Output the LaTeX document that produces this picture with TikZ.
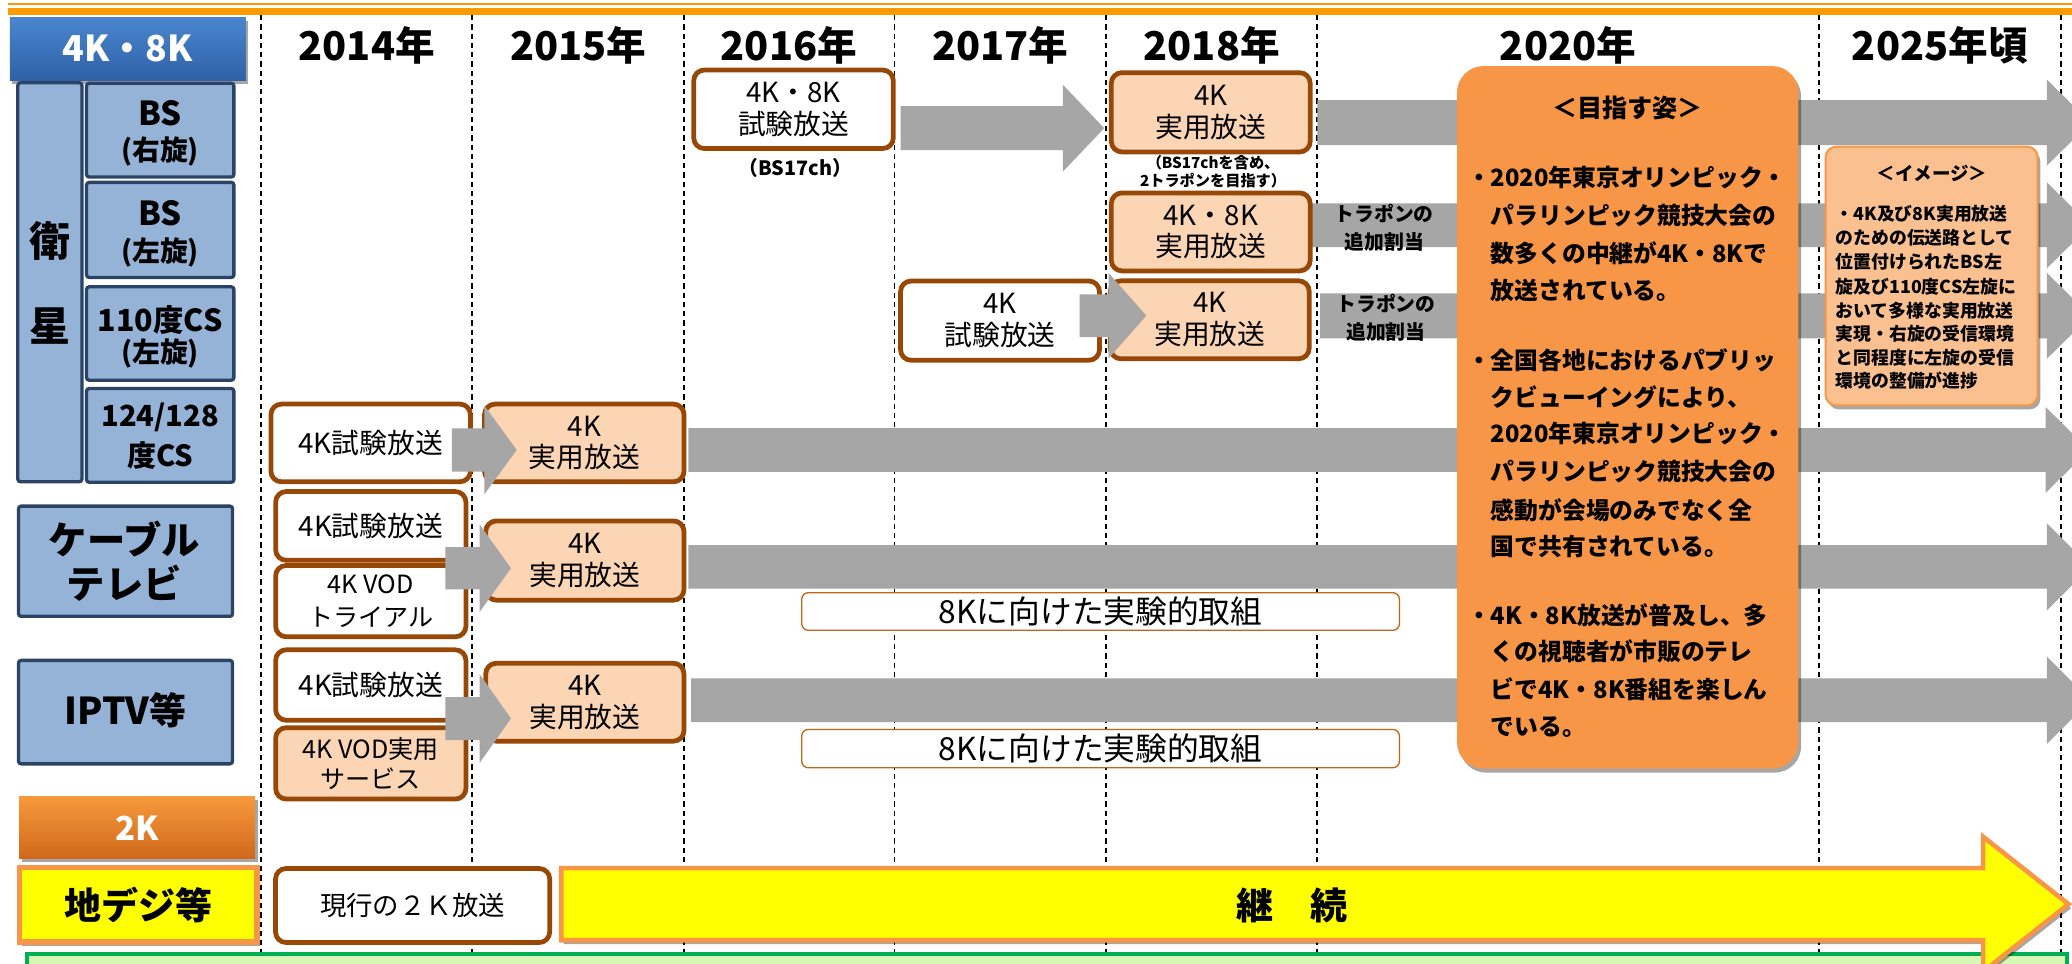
\documentclass[tikz,border=0pt]{standalone}
\usepackage{fontspec}
\setmainfont{Noto Sans CJK JP}
\usetikzlibrary{shadows}
\definecolor{topO}{HTML}{FF9900}
\definecolor{grayA}{HTML}{A6A6A6}
\definecolor{brownB}{HTML}{984806}
\definecolor{peach}{HTML}{FCD5B4}
\definecolor{eBorder}{HTML}{C0661A}
\definecolor{navyB}{HTML}{2B4466}
\definecolor{blueF}{HTML}{95B3D7}
\definecolor{orangeF}{HTML}{F79646}
\definecolor{imgF}{HTML}{FAC090}
\definecolor{greenB}{HTML}{00B050}
\definecolor{greenF}{HTML}{D6F7B5}
\definecolor{hdrTop}{HTML}{4A86D0}
\definecolor{hdrBot}{HTML}{2F61A6}
\definecolor{kTop}{HTML}{F79A3C}
\definecolor{kBot}{HTML}{D0681C}
\definecolor{yel}{HTML}{FFFF00}
\newcommand\fsz[2]{\fontsize{#1}{#2}\selectfont}
% x0, xh, xt, yc, half body, half head
\newcommand\blockarrow[6]{%
  \fill[grayA] (#1,#4-#5) -- (#2,#4-#5) -- (#2,#4-#6) -- (#3,#4) -- (#2,#4+#6) -- (#2,#4+#5) -- (#1,#4+#5) -- cycle;}
\tikzset{
  vline/.style={black, line width=1.2pt, dash pattern=on 4pt off 3pt},
  lbl/.style={draw=navyB, line width=2.5pt, fill=blueF, inner sep=0pt, rounded corners=2pt},
  ltxt/.style={inner sep=0pt, font=\bfseries\fsz{22}{26}},
  tbox/.style={draw=brownB, line width=3.6pt, rounded corners=8pt, fill=white, inner sep=0pt, align=center, font=\fsz{21}{24}},
  pbox/.style={tbox, fill=peach},
  ebox/.style={draw=eBorder, line width=1pt, rounded corners=5pt, fill=white, inner sep=0pt, font=\fsz{24}{27}},
  yr/.style={inner sep=0pt, font=\bfseries\fsz{30}{36}},
  note/.style={inner sep=0pt, align=center},
  tlabel/.style={inner sep=0pt, align=center, font=\bfseries\fsz{15}{21.5}},
  otxt/.style={inner sep=0pt, anchor=west, font=\bfseries\fsz{18}{22}},
  itxt/.style={inner sep=0pt, anchor=west, font=\bfseries\fsz{13.5}{17}},
  shad/.style={drop shadow={shadow xshift=2pt, shadow yshift=-3pt, opacity=0.35, fill=black}},
}
\begin{document}
\begin{tikzpicture}[x=1pt,y=-1pt]
\useasboundingbox (0,0) rectangle (1568,729.5);
\clip (0,0) rectangle (1568,729.5);

% top lines
\fill[topO] (6,2.5) rectangle (1568,4);
\fill[topO] (6,6.3) rectangle (1568,11.4);

% dashed column separators
\foreach \xx in {197.6,357.4,517.5,677,837,996.5,1376.7,1559.5}
  \draw[vline] (\xx,11.4) -- (\xx,722);

% long gray bands
\blockarrow{997}{1549}{1582}{92.8}{17}{32.5}
\blockarrow{993}{1549}{1582}{170.5}{16.5}{32.5}
\blockarrow{999}{1549}{1582}{239}{17}{32.5}
\blockarrow{521}{1548}{1581}{340.5}{16.5}{32.5}
\blockarrow{521}{1549}{1582}{429}{16.4}{33}
\blockarrow{523}{1549}{1582}{529.9}{16.5}{33}

% timeline boxes
\node[tbox, minimum width=151pt, minimum height=59.4pt] (b16) at (600.5,82.7) {4K・8K\\試験放送};
\node[note, font=\bfseries\fsz{15}{18}] (bs17) at (602,127) {（BS17ch）};
\node[pbox, minimum width=150.5pt, minimum height=60pt] (b18a) at (916.25,85) {4K\\実用放送};
\node[note, font=\bfseries\fsz{11.5}{14}] (n18) at (918,130) {（BS17chを含め、\\2トラポンを目指す）};
\node[pbox, minimum width=150.5pt, minimum height=59pt] (b18b) at (916.25,175.5) {4K・8K\\実用放送};
\node[tbox, minimum width=150.5pt, minimum height=60pt] (b17) at (756.75,242.65) {4K\\試験放送};
\node[pbox, minimum width=150.5pt, minimum height=59pt] (b18c) at (915.5,242) {4K\\実用放送};
\node[tbox, minimum width=151pt, minimum height=58.8pt] (r4a) at (280.5,335.2) {4K試験放送};
\node[pbox, minimum width=151pt, minimum height=58.8pt] (r4b) at (442.15,335.2) {4K\\実用放送};
\node[tbox, minimum width=144pt, minimum height=52pt] (c1) at (280.6,398) {4K試験放送};
\node[tbox, minimum width=144pt, minimum height=54pt, font=\fsz{19}{25}] (c2) at (280.6,454.9) {4K VOD\\トライアル};
\node[pbox, minimum width=150pt, minimum height=60pt] (c3) at (442.6,424.2) {4K\\実用放送};
\node[tbox, minimum width=144pt, minimum height=53.3pt] (i1) at (280.6,518.4) {4K試験放送};
\node[pbox, minimum width=144pt, minimum height=54pt, font=\fsz{19}{23}] (i2) at (280.6,577.7) {4K VOD実用\\サービス};
\node[pbox, minimum width=150pt, minimum height=59pt] (i3) at (442.6,531.4) {4K\\実用放送};
\node[ebox, minimum width=452.3pt, minimum height=28.5pt] (e1) at (832.85,462.75) {8Kに向けた実験的取組};
\node[ebox, minimum width=452.3pt, minimum height=29pt] (e2) at (832.85,566.5) {8Kに向けた実験的取組};
\node[tbox, minimum width=207.5pt, minimum height=56pt, font=\fsz{20}{24}] (genko) at (312.25,685.25) {現行の２Ｋ放送};

% short arrows drawn over boxes
\blockarrow{681.5}{804.4}{835.6}{97}{16.65}{32.8}
\blockarrow{817}{839}{867.5}{238.9}{16.2}{32.2}
\blockarrow{342}{366.6}{391}{340.5}{16.4}{33.5}
\blockarrow{337}{363}{386.7}{430}{16}{33}
\blockarrow{337}{363}{386.7}{543.75}{16.25}{33.5}

% band labels
\node[tlabel] (tr1) at (1047.5,172.2) {トラポンの\\追加割当};
\node[tlabel] (tr2) at (1048.8,240.3) {トラポンの\\追加割当};

% goal box
\node[shad, fill=orangeF, rounded corners=20pt, minimum width=258.4pt, minimum height=531.7pt, inner sep=0pt] (goal) at (1231.8,315.85) {};
\node[inner sep=0pt, font=\bfseries\fsz{19}{22}] (goalT) at (1231.5,82) {＜目指す姿＞};
\foreach \yy/\mytxt [count=\i] in {
  134/{\llap{・}2020年東京オリンピック・},
  163/{パラリンピック競技大会の},
  192/{数多くの中継が4K・8Kで},
  220/{放送されている。},
  272.7/{\llap{・}全国各地におけるパブリッ},
  300.5/{クビューイングにより、},
  328/{2020年東京オリンピック・},
  357/{パラリンピック競技大会の},
  386/{感動が会場のみでなく全},
  413.7/{国で共有されている。},
  465.5/{\llap{・}4K・8K放送が普及し、多},
  493/{くの視聴者が市販のテレ},
  521.8/{ビで4K・8K番組を楽しん},
  550/{でいる。}}
  \node[otxt] (gl\i) at (1128,\yy) {\mytxt};

% image box
\node[shad, fill=imgF, draw=orangeF, line width=1.5pt, rounded corners=8pt, minimum width=160.5pt, minimum height=195.8pt, inner sep=0pt] (img) at (1461.75,208.9) {};
\node[inner sep=0pt, font=\bfseries\fsz{14}{17}] (imgT) at (1462,131.3) {＜イメージ＞};
\foreach \yy/\mytxt [count=\i] in {
  161.6/{・4K及び8K実用放送},
  179.8/{のための伝送路として},
  198/{位置付けられたBS左},
  216.7/{旋及び110度CS左旋に},
  234.8/{おいて多様な実用放送},
  252.5/{実現・右旋の受信環境},
  270.7/{と同程度に左旋の受信},
  288/{環境の整備が進捗}}
  \node[itxt] (il\i) at (1389,\yy) {\mytxt};

% header and years
\node[shad, top color=hdrTop, bottom color=hdrBot, minimum width=178.6pt, minimum height=47.6pt, inner sep=0pt] (hdr) at (96.7,36.8) {};
\node[inner sep=0pt, text=white, font=\bfseries\fsz{27}{30}] (hdrT) at (96.7,37) {4K・8K};
\node[yr] (y14) at (277.5,34) {2014年};
\node[yr] (y15) at (437.5,34) {2015年};
\node[yr] (y16) at (597,34) {2016年};
\node[yr] (y17) at (757,34) {2017年};
\node[yr] (y18) at (917,34) {2018年};
\node[yr] (y20) at (1186.6,34) {2020年};
\node[yr] (y25) at (1468,34) {2025年頃};

% left labels
\node[lbl, minimum width=48.5pt, minimum height=302pt] (eisei) at (37.75,213.6) {};
\node[ltxt, font=\bfseries\fsz{31}{36}] (eiseiA) at (37.75,182) {衛};
\node[ltxt, font=\bfseries\fsz{31}{36}] (eiseiB) at (37.75,247) {星};
\node[lbl, minimum width=111.5pt, minimum height=71pt] (bsR) at (121.25,98.5) {};
\node[ltxt, font=\bfseries\fsz{25}{28}] (bsRa) at (121.25,86) {BS};
\node[ltxt, font=\bfseries\fsz{21}{24}] (bsRb) at (121.25,115) {(右旋)};
\node[lbl, minimum width=111.5pt, minimum height=72pt] (bsL) at (121.25,174) {};
\node[ltxt, font=\bfseries\fsz{25}{28}] (bsLa) at (121.25,161.6) {BS};
\node[ltxt, font=\bfseries\fsz{21}{24}] (bsLb) at (121.25,190.7) {(左旋)};
\node[lbl, minimum width=111.5pt, minimum height=70.7pt] (cs110) at (121.25,252.4) {};
\node[ltxt, font=\bfseries\fsz{23}{26}] (cs110a) at (121.25,242.2) {110度CS};
\node[ltxt, font=\bfseries\fsz{21}{24}] (cs110b) at (121.25,267.5) {(左旋)};
\node[lbl, minimum width=111.5pt, minimum height=71pt] (cs124) at (121.25,329.5) {};
\node[ltxt, font=\bfseries\fsz{22}{26}] (cs124a) at (121.25,315.5) {124/128};
\node[ltxt, font=\bfseries\fsz{22}{26}] (cs124b) at (121.25,344.5) {度CS};
\node[lbl, minimum width=162pt, minimum height=83.4pt] (cable) at (95,424.7) {};
\node[ltxt, font=\bfseries\fsz{29}{32}] (cableA) at (94,407.6) {ケーブル};
\node[ltxt, font=\bfseries\fsz{29}{32}] (cableB) at (94,441.6) {テレビ};
\node[lbl, minimum width=162pt, minimum height=78.3pt] (iptv) at (95,538.9) {};
\node[ltxt, font=\bfseries\fsz{28}{32}] (iptvA) at (95,537.6) {IPTV等};
\node[shad, top color=kTop, bottom color=kBot, minimum width=178.5pt, minimum height=47.2pt, inner sep=0pt] (twoK) at (103.75,626) {};
\node[ltxt, text=white, font=\bfseries\fsz{25}{28}] (twoKT) at (103.75,627) {2K};

% bottom area
\fill[greenF, draw=greenB, line width=3pt] (20.3,721.6) rectangle (1564,760);
\node[shad, fill=yel, draw=orangeF, line width=4pt, minimum width=180pt, minimum height=56.3pt, inner sep=0pt] (chideji) at (104.5,684.7) {};
\node[ltxt, font=\bfseries\fsz{28}{32}] (chidejiT) at (104.5,684.5) {地デジ等};
\draw[shad, fill=yel, draw=orangeF, line width=3.5pt]
  (424.7,657) -- (1500.7,657) -- (1500.7,633.2) -- (1565.4,684.25) -- (1500.7,735.3) -- (1500.7,711.5) -- (424.7,711.5) -- cycle;
\node[ltxt, font=\bfseries\fsz{28}{32}] (keizoku) at (978,685) {継　続};
\end{tikzpicture}
\end{document}
